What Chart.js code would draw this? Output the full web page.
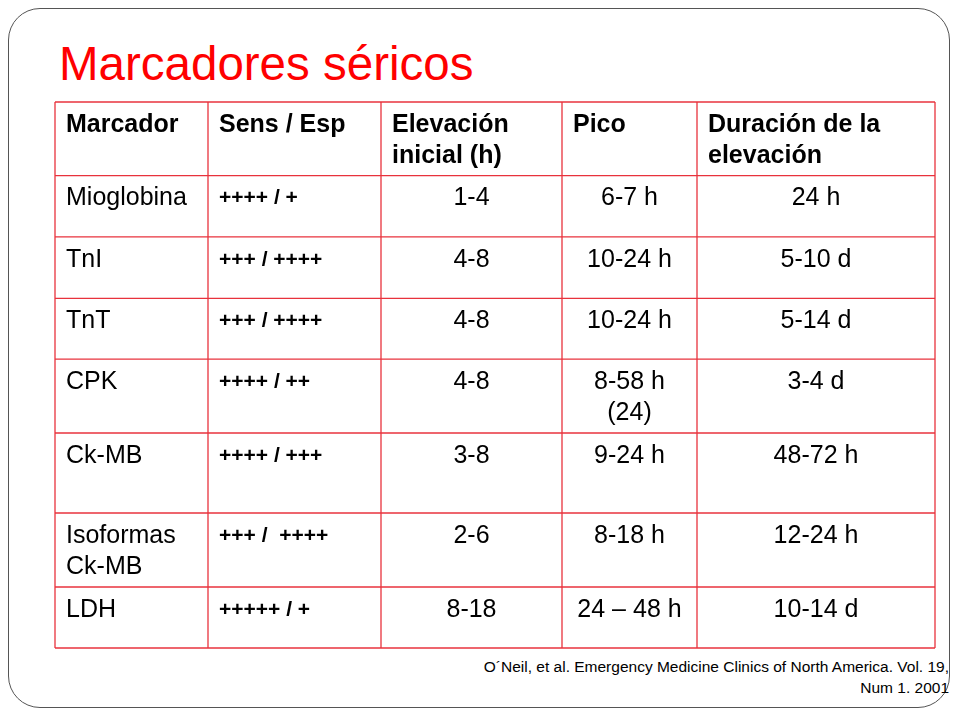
<!DOCTYPE html>
<html><head><meta charset="utf-8">
<script src="https://cdn.jsdelivr.net/npm/chart.js@4"></script>
<style>html,body{margin:0;padding:0;background:#fff;}#w{position:relative;width:960px;height:720px;}
#frame{position:absolute;left:8px;top:8px;width:942px;height:700px;border:1px solid #555;border-radius:32px;box-sizing:border-box;}
#t{position:absolute;left:59px;top:36px;font:47.5px "Liberation Sans",Arial,sans-serif;color:#f00;}
#src{position:absolute;right:11px;top:656px;font:15.5px "Liberation Sans",Arial,sans-serif;text-align:right;line-height:21px;color:#000;}
canvas{position:absolute;left:0;top:0;}</style></head>
<body><div id="w"><div id="frame"></div><div id="t">Marcadores séricos</div>
<div id="src">O´Neil, et al. Emergency Medicine Clinics of North America. Vol. 19,<br>Num 1. 2001</div>
<canvas id="c" width="960" height="720"></canvas></div>
<script>
const headers=[["Marcador"],["Sens / Esp"],["Elevación","inicial (h)"],["Pico"],["Duración de la","elevación"]];
const marcadores=[["Mioglobina"],["TnI"],["TnT"],["CPK"],["Ck-MB"],["Isoformas","Ck-MB"],["LDH"]];
const sensEsp=["++++ / +","+++ / ++++","+++ / ++++","++++ / ++","++++ / +++","+++ /  ++++","+++++ / +"];
const elevacion=["1-4","4-8","4-8","4-8","3-8","2-6","8-18"];
const pico=[["6-7 h"],["10-24 h"],["10-24 h"],["8-58 h","(24)"],["9-24 h"],["8-18 h"],["24 – 48 h"]];
const duracion=["24 h","5-10 d","5-14 d","3-4 d","48-72 h","12-24 h","10-14 d"];
const colEdges=[0,153,326,507,642,880];
const rowEdges=[0,73.6,134.8,196.4,257.2,331,411,485,546];
const F='"Liberation Sans",Arial,sans-serif';
const pts=[];for(let r=0;r<8;r++)for(let c=0;c<5;c++)pts.push({x:(colEdges[c]+colEdges[c+1])/2,y:(rowEdges[r]+rowEdges[r+1])/2});
const tablePlugin={id:'tbl',afterDatasetsDraw(ch){
 const ctx=ch.ctx,xs=ch.scales.x,ys=ch.scales.y;const X=v=>xs.getPixelForValue(v),Y=v=>ys.getPixelForValue(v);
 ctx.save();ctx.strokeStyle='#e8323c';ctx.lineWidth=1.3;
 colEdges.forEach(e=>{ctx.beginPath();ctx.moveTo(X(e),Y(0));ctx.lineTo(X(e),Y(546));ctx.stroke();});
 rowEdges.forEach(e=>{ctx.beginPath();ctx.moveTo(X(0),Y(e));ctx.lineTo(X(880),Y(e));ctx.stroke();});
 ctx.fillStyle='#000';ctx.textBaseline='middle';
 const put=(lines,c,r,font,align)=>{ctx.font=font;ctx.textAlign=align;
  const x=align==='left'?X(colEdges[c])+11:(X(colEdges[c])+X(colEdges[c+1]))/2;
  lines.forEach((l,i)=>ctx.fillText(l,x,Y(rowEdges[r])+23+i*31));};
 headers.forEach((h,c)=>put(h,c,0,'bold 25px '+F,'left'));
 for(let r=0;r<7;r++){
  put(marcadores[r],0,r+1,'25px '+F,'left');
  put([sensEsp[r]],1,r+1,'bold 21px '+F,'left');
  put([elevacion[r]],2,r+1,'25px '+F,'center');
  put(pico[r],3,r+1,'25px '+F,'center');
  put([duracion[r]],4,r+1,'25px '+F,'center');
 }
 ctx.restore();}};
new Chart(document.getElementById('c'),{type:'scatter',data:{datasets:[{data:pts,pointRadius:0}]},
 options:{responsive:false,animation:false,layout:{padding:{left:55,right:25,top:102,bottom:72}},
 plugins:{legend:{display:false},tooltip:{enabled:false}},
 scales:{x:{display:false,min:0,max:880},y:{display:false,min:0,max:546,reverse:true}}},plugins:[tablePlugin]});
</script></body></html>
